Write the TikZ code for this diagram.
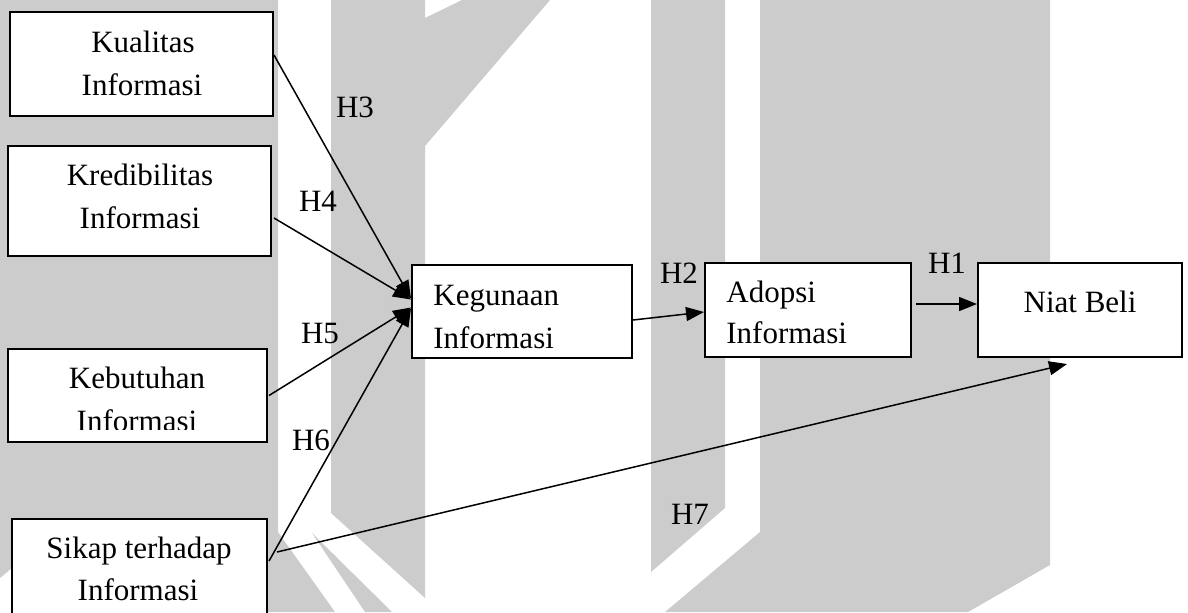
\documentclass[tikz,border=0pt]{standalone}
\usepackage{fontspec}
\setmainfont{Liberation Serif}
\usetikzlibrary{arrows.meta,calc}

\tikzset{
  wm/.style={fill=black!20, draw=none},
  box/.style={draw, line width=1pt, fill=white, inner sep=0pt, rectangle},
  txt/.style={font=\fontsize{15.5}{21.5}\selectfont, anchor=base, inner sep=0pt},
  ltxt/.style={txt, anchor=base west},
  link/.style={line width=0.75pt, -{Triangle[length=9pt,width=7pt]}}
}

\begin{document}
\begin{tikzpicture}[x=0.5pt,y=-0.5pt]
\useasboundingbox (0,0) rectangle (1188,612);
\clip (0,0) rectangle (1188,612);

% background emblem
\fill[wm] (0,0) -- (278,0) -- (278,532) -- (335,612) -- (60,612) -- (60,528) -- (0,578) -- cycle;
\fill[wm] (312,533) -- (365,612) -- (392,612) -- cycle;
\fill[wm] (331,0) -- (425,0) -- (425,18) -- (462,0) -- (550,0) -- (425,146)
          -- (425,598) -- (331,513) -- cycle;
\fill[wm] (651,0) -- (725,0) -- (725,508) -- (651,572) -- cycle;
\fill[wm] (760,0) -- (1050,0) -- (1050,565) -- (968,612) -- (665,612) -- (760,532) -- cycle;

% boxes
\node[box, minimum width=131.5pt, minimum height=52pt]   (kual)  at (141.5,64)  {};
\node[box, minimum width=131.5pt, minimum height=55pt]   (kred)  at (139.5,201) {};
\node[box, minimum width=129.5pt, minimum height=46.5pt] (kebu)  at (137.5,395.5) {};
\node[box, minimum width=127.5pt, minimum height=48pt]   (sikap) at (139.5,567) {};
\node[box, minimum width=110pt,   minimum height=46.5pt] (keg)   at (522,311.5) {};
\node[box, minimum width=103pt,   minimum height=47pt]   (adop)  at (808,310)   {};
\node[box, minimum width=102pt,   minimum height=47pt]   (niat)  at (1080,310)  {};

% box texts
\node[txt] (t1a) at (143,52)  {Kualitas};
\node[txt] (t1b) at (142,95)  {Informasi};
\node[txt] (t2a) at (140,185) {Kredibilitas};
\node[txt] (t2b) at (140,228) {Informasi};
\node[txt] (t3a) at (137,388) {Kebutuhan};
\begin{scope}
  \clip (0,0) rectangle (1188,429);
  \node[txt] (t3b) at (137,431) {Informasi};
\end{scope}
\node[txt] (t4a) at (139,558) {Sikap terhadap};
\node[txt] (t4b) at (138,600) {Informasi};
\node[ltxt] (t5a) at (433,305) {Kegunaan};
\node[ltxt] (t5b) at (433,348) {Informasi};
\node[ltxt] (t6a) at (726,302) {Adopsi};
\node[ltxt] (t6b) at (726,343) {Informasi};
\node[txt] (t7a) at (1080,312) {Niat Beli};

% connectors
\draw[link] ($(kual.east)+(0,-9)$)   -- ($(keg.west)+(0,-13)$);
\draw[link] ($(kred.east)+(2,17)$)   -- ($(keg.west)+(0,-12)$);
\draw[link] ($(kebu.east)+(1,0)$)    -- ($(keg.west)+(0,-4)$);
\draw[link] ($(sikap.east)+(1,-6)$)  -- ($(keg.west)+(0,-3)$);
\draw[link] ($(keg.east)+(0,8.5)$)   -- ($(adop.west)+(0,2)$);
\draw[link] ($(adop.east)+(4,-6)$)   -- ($(niat.west)+(0,-6)$);
\draw[link] ($(sikap.east)+(9,-15)$) -- ($(niat.south)+(-13,6)$);

% hypothesis labels
\node[txt] (h1) at (947,273) {H1};
\node[txt] (h2) at (679,283) {H2};
\node[txt] (h3) at (355,117) {H3};
\node[txt] (h4) at (318,211) {H4};
\node[txt] (h5) at (320,343) {H5};
\node[txt] (h6) at (311,450) {H6};
\node[txt] (h7) at (690,524) {H7};
\end{tikzpicture}
\end{document}
